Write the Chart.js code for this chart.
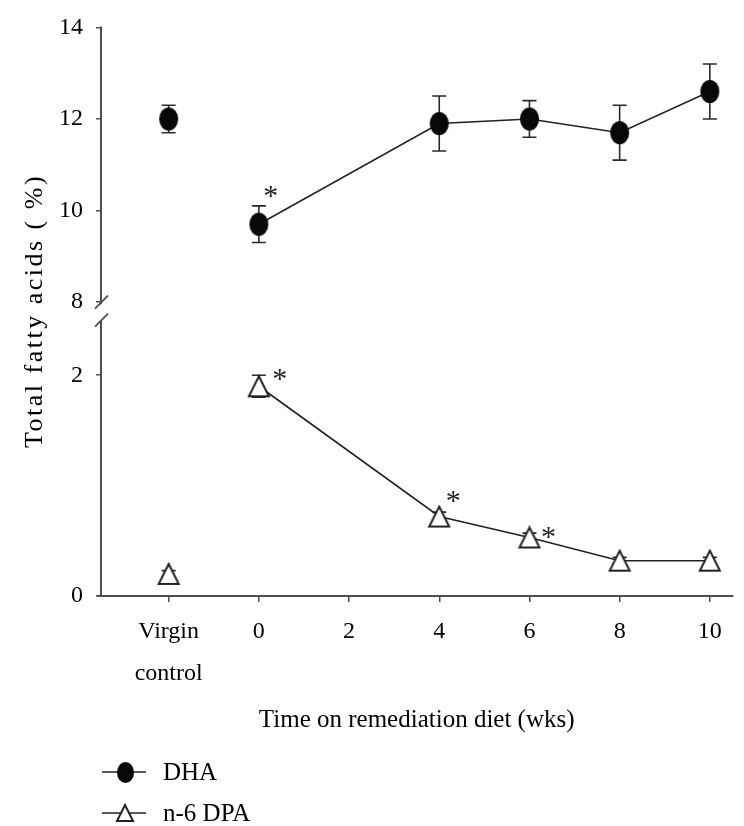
<!DOCTYPE html>
<html>
<head>
<meta charset="utf-8">
<script src="https://cdn.jsdelivr.net/npm/chart.js@4"></script>
<style>
html,body{margin:0;padding:0;background:#fff}
#wrap{position:relative;width:744px;height:826px}
</style>
</head>
<body>
<div id="wrap"><canvas id="c"></canvas></div>
<script>
// x = -2 stands for the virgin control group
const weeks=[-2,0,4,6,8,10];
const xTicks=[-2,0,2,4,6,8,10];
const dha=[12.0,9.7,11.9,12.0,11.7,12.6];
const dhaErr=[0.3,0.4,0.6,0.4,0.6,0.6];
const dpa=[0.2,1.9,0.72,0.53,0.32,0.32];
const dpaErr=[0.03,0.1,0.04,0.04,0.03,0.03];
const dhaSig=[0,1,0,0,0,0];
const dpaSig=[0,1,1,1,0,0];
const topTicks=[8,10,12,14];
const botTicks=[0,2];

const SERIF='"Liberation Serif", "Times New Roman", serif';
const AX='#4e4e4e', INK='#000';
// where each asterisk sits relative to its point (px)
const starOff={dha:{1:[12,-33]},dpa:{1:[21,-12],2:[14,-20],3:[19,-5]}};

function ellipseImg(w,h){
  const c=document.createElement('canvas');c.width=w+2;c.height=h+2;
  const g=c.getContext('2d');g.fillStyle='#080808';
  g.beginPath();g.ellipse(c.width/2,c.height/2,w/2,h/2,0,0,Math.PI*2);g.fill();
  return c;
}
function triImg(w,h){
  const c=document.createElement('canvas');c.width=w+4;c.height=h+4;
  const g=c.getContext('2d');g.fillStyle='#fff';g.strokeStyle='#222';g.lineWidth=2;
  g.beginPath();g.moveTo(c.width/2,2);g.lineTo(w+2,h+2);g.lineTo(2,h+2);g.closePath();
  g.fill();g.stroke();
  return c;
}
const dot=ellipseImg(19,23), tri=triImg(20,20);
const dotL=ellipseImg(17,21), triL=triImg(16,16);

const pts=(ys)=>weeks.map((x,i)=>({x,y:ys[i]}));
// hide the segment joining the control point to week 0
const seg={borderColor:c=>c.p0DataIndex===0?'rgba(0,0,0,0)':'#222'};

const decor={
  id:'decor',
  beforeDatasetsDraw(ch){
    const {ctx,scales:{x,yTop,yBot}}=ch;
    ctx.save();
    ctx.strokeStyle=AX;ctx.lineWidth=2;
    const ax=x.left;
    ctx.beginPath();
    ctx.moveTo(ax,yTop.getPixelForValue(14)-1);ctx.lineTo(ax,yTop.getPixelForValue(7.95));
    ctx.moveTo(ax,yBot.getPixelForValue(2.5));ctx.lineTo(ax,yBot.getPixelForValue(0));
    ctx.moveTo(ax-4,yBot.getPixelForValue(0));ctx.lineTo(ax,yBot.getPixelForValue(0));
    ctx.stroke();
    // axis break marks
    ctx.lineWidth=1.8;
    [yTop.getPixelForValue(8),yBot.getPixelForValue(2.5)].forEach(py=>{
      ctx.beginPath();ctx.moveTo(ax-6,py+6.5);ctx.lineTo(ax+7,py-6.5);ctx.stroke();
    });
    // error bars
    ctx.strokeStyle='#2a2a2a';ctx.lineWidth=1.6;
    const bars=(vals,errs,sc)=>vals.forEach((v,i)=>{
      const px=x.getPixelForValue(weeks[i]);
      const hi=sc.getPixelForValue(v+errs[i]), lo=sc.getPixelForValue(v-errs[i]);
      ctx.beginPath();
      ctx.moveTo(px,hi);ctx.lineTo(px,lo);
      ctx.moveTo(px-7,hi);ctx.lineTo(px+7,hi);
      ctx.moveTo(px-7,lo);ctx.lineTo(px+7,lo);
      ctx.stroke();
    });
    bars(dha,dhaErr,yTop);bars(dpa,dpaErr,yBot);
    ctx.restore();
  },
  afterDatasetsDraw(ch){
    const {ctx,scales:{x,yTop,yBot}}=ch;
    ctx.save();
    ctx.font='30px '+SERIF;ctx.fillStyle='#222';ctx.textAlign='center';ctx.textBaseline='alphabetic';
    const m=ctx.measureText('*');
    const mid=(m.actualBoundingBoxAscent-m.actualBoundingBoxDescent)/2;
    const stars=(vals,sig,sc,off)=>vals.forEach((v,i)=>{
      if(!sig[i])return;
      const o=off[i]||[14,-16];
      ctx.fillText('*',x.getPixelForValue(weeks[i])+o[0],sc.getPixelForValue(v)+o[1]+mid);
    });
    stars(dha,dhaSig,yTop,starOff.dha);stars(dpa,dpaSig,yBot,starOff.dpa);
    ctx.restore();
  },
  afterDraw(ch){
    const {ctx}=ch;
    ctx.save();
    // y title
    ctx.translate(35,311);ctx.rotate(-Math.PI/2);
    ctx.font='26px '+SERIF;ctx.fillStyle=INK;ctx.textAlign='center';ctx.textBaseline='middle';
    ctx.letterSpacing='2.5px';
    ctx.fillText('Total fatty acids ( %)',0,0);
    ctx.restore();
    // legend
    ctx.save();
    const items=[[ch.data.datasets[0].label,dotL,772],[ch.data.datasets[1].label,triL,813]];
    items.forEach(([lab,img,y])=>{
      ctx.strokeStyle='#222';ctx.lineWidth=1.6;
      ctx.beginPath();ctx.moveTo(102,y);ctx.lineTo(146,y);ctx.stroke();
      ctx.drawImage(img,Math.round(125-img.width/2),Math.round(y-img.height/2));
      ctx.font='25px '+SERIF;ctx.fillStyle=INK;ctx.textAlign='left';ctx.textBaseline='middle';
      ctx.fillText(lab,163,y+1);
    });
    ctx.restore();
  }
};

const yCommon={
  type:'linear',position:'left',stack:'y',
  afterFit:s=>{s.width=101},
  border:{display:false},
  grid:{display:true,drawOnChartArea:false,drawTicks:true,tickLength:5,color:AX,lineWidth:1.5},
  ticks:{font:{family:SERIF,size:24},color:INK,padding:13}
};

new Chart(document.getElementById('c'),{
  type:'line',
  data:{datasets:[
    {label:'DHA',data:pts(dha),yAxisID:'yTop',pointStyle:dot,pointRadius:10,borderWidth:1.6,
     borderColor:'#222',segment:seg,clip:false},
    {label:'n-6 DPA',data:pts(dpa),yAxisID:'yBot',pointStyle:tri,pointRadius:10,borderWidth:1.6,
     borderColor:'#222',segment:seg,clip:false}
  ]},
  options:{
    responsive:true,maintainAspectRatio:false,animation:false,
    layout:{padding:{top:22,right:7,bottom:80,left:0}},
    plugins:{legend:{display:false},tooltip:{enabled:false}},
    scales:{
      x:{type:'linear',min:-3.5,max:10.5,
        afterBuildTicks:s=>{s.ticks=xTicks.map(v=>({value:v}))},
        afterFit:s=>{s.height=150},
        border:{display:true,color:AX,width:2},
        grid:{display:true,drawOnChartArea:false,drawTicks:true,tickLength:6,color:AX,lineWidth:1.5},
        ticks:{font:{family:SERIF,size:24,lineHeight:1.75},color:INK,padding:9,maxRotation:0,autoSkip:false,
          callback:v=>v===-2?['Virgin','control']:v},
        title:{display:true,text:'Time on remediation diet (wks)',font:{family:SERIF,size:25},color:INK,padding:{top:0,bottom:11}}
      },
      // stacked axes are laid out bottom-up in the order given
      yBot:{...yCommon,min:0,max:2.58,stackWeight:288,
        afterBuildTicks:s=>{s.ticks=botTicks.map(v=>({value:v}))}},
      yTop:{...yCommon,min:7.8,max:14,stackWeight:287,
        afterBuildTicks:s=>{s.ticks=topTicks.map(v=>({value:v}))}}
    }
  },
  plugins:[decor]
});
</script>
</body>
</html>
